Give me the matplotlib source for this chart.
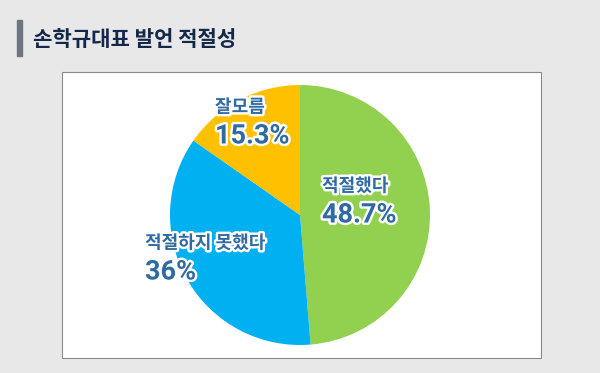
import matplotlib
matplotlib.use('Agg')
import matplotlib.pyplot as plt
import matplotlib.patheffects as pe
from matplotlib.patches import Rectangle

plt.rcParams['font.family'] = ['Noto Sans CJK KR', 'DejaVu Sans']

# data
labels = ['적절했다', '적절하지 못했다', '잘모름']
values = [48.7, 36, 15.3]
pct_labels = ['48.7%', '36%', '15.3%']
colors = ['#92d050', '#00b0f0', '#ffc000']
title = '손학규대표 발언 적절성'

W, H = 600, 373
fig = plt.figure(figsize=(W / 100, H / 100), dpi=100)
fig.patch.set_facecolor('#e8e8e8')


def fx(px):
    return px / W


def fy(py):
    return 1 - py / H


# title bar + title
fig.patches.append(Rectangle((fx(17), fy(56)), fx(5), 36 / H,
                             transform=fig.transFigure, color='#6d7680', zorder=-1))
fig.text(fx(33), fy(39), title, fontsize=15.2, fontweight='bold',
         color='#14284a', va='center', ha='left')

# white panel (behind the pie)
fig.patches.append(Rectangle((fx(62), fy(358)), fx(479), 286 / H,
                             transform=fig.transFigure, facecolor='white',
                             edgecolor='#8a8a8a', linewidth=0.8, zorder=-1))

# pie
ax = fig.add_axes([fx(170), fy(345), fx(260), 260 / H])
ax.pie(values, colors=colors, startangle=90, counterclock=False,
       wedgeprops=dict(linewidth=0))
ax.set_xlim(-1, 1)
ax.set_ylim(-1, 1)
ax.set_aspect('equal')
ax.axis('off')

# labels (pixel anchors of the name line)
label_pos = [(322, 186), (145, 243), (215, 107)]
stroke = [pe.withStroke(linewidth=3.5, foreground='white')]
for name, pct, (x, y) in zip(labels, pct_labels, label_pos):
    fig.text(fx(x), fy(y), name, fontsize=13, fontweight='bold',
             color='#2f6aa3', va='center', ha='left', path_effects=stroke,
             zorder=5)
    fig.text(fx(x), fy(y + 29), pct, fontsize=19.5, fontweight='bold',
             family=['Roboto', 'DejaVu Sans'],
             color='#2f6aa3', va='center', ha='left', path_effects=stroke,
             zorder=5)

fig.savefig('out.png', dpi=100, facecolor=fig.get_facecolor())
